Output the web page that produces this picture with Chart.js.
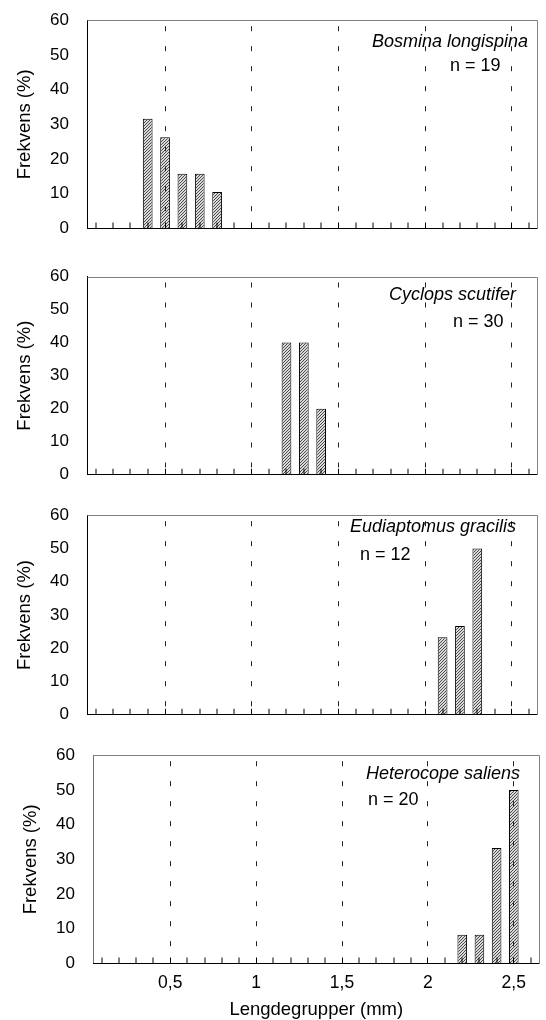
<!DOCTYPE html>
<html><head><meta charset="utf-8">
<script src="https://cdn.jsdelivr.net/npm/chart.js@4.4.1/dist/chart.umd.min.js"></script>
<style>
html,body{margin:0;padding:0;background:#fff;}
#wrap{position:relative;width:546px;height:1020px;overflow:hidden;}
canvas{position:absolute;left:0;}
</style></head>
<body><div id="wrap">
<canvas id="c1" width="546" height="250" style="top:0px"></canvas>
<canvas id="c2" width="546" height="245" style="top:250px"></canvas>
<canvas id="c3" width="546" height="240" style="top:495px"></canvas>
<canvas id="c4" width="546" height="285" style="top:735px"></canvas>
</div>
<script>
// ---- data ----
const categories = ['0,1','0,2','0,3','0,4','0,5','0,6','0,7','0,8','0,9','1',
  '1,1','1,2','1,3','1,4','1,5','1,6','1,7','1,8','1,9','2',
  '2,1','2,2','2,3','2,4','2,5','2,6'];
const xTickLabels = ['0,5','1','1,5','2','2,5'];
const speciesNames = ['Bosmina longispina','Cyclops scutifer','Eudiaptomus gracilis','Heterocope saliens'];
const nLabels = ['n = 19','n = 30','n = 12','n = 20'];
const bosmina = [null,null,null,31.6,26.3,15.8,15.8,10.5,null,null,null,null,null,null,null,null,null,null,null,null,null,null,null,null,null,null];
const cyclops = [null,null,null,null,null,null,null,null,null,null,null,40,40,20,null,null,null,null,null,null,null,null,null,null,null,null];
const eudiaptomus = [null,null,null,null,null,null,null,null,null,null,null,null,null,null,null,null,null,null,null,null,23.3,26.7,50,null,null,null];
const heterocope = [null,null,null,null,null,null,null,null,null,null,null,null,null,null,null,null,null,null,null,null,null,8.3,8.3,33.3,50,null];
const yMin = 0, yMax = 60, yStep = 10;
const yTitle = 'Frekvens (%)';
const xTitle = 'Lengdegrupper (mm)';

// ---- styling / layout ----
Chart.defaults.font.family = '"Liberation Sans", Arial, sans-serif';
Chart.defaults.color = '#000';

function hatch(){
  const c = document.createElement('canvas'); c.width = 3; c.height = 3;
  const g = c.getContext('2d');
  g.fillStyle = '#dadada'; g.fillRect(0,0,3,3);
  g.fillStyle = '#4a4a4a';
  for (let i=0;i<3;i++) g.fillRect(i,2-i,1,1);
  return g.createPattern(c,'repeat');
}
const pattern = hatch();

const frameAndText = {
  id: 'frameAndText',
  afterDraw(chart, args, o) {
    const {ctx, chartArea: a} = chart;
    ctx.save();
    ctx.setLineDash([]);
    ctx.strokeStyle = '#808080'; ctx.lineWidth = 1;
    ctx.beginPath();
    ctx.moveTo(Math.round(a.left)+0.5, Math.round(a.top)+0.5);
    ctx.lineTo(Math.round(a.right)-0.5, Math.round(a.top)+0.5);
    ctx.lineTo(Math.round(a.right)-0.5, Math.round(a.bottom));
    ctx.stroke();
    ctx.fillStyle = '#000';
    ctx.textBaseline = 'middle';
    ctx.font = 'italic 18px "Liberation Sans", Arial, sans-serif';
    ctx.textAlign = 'right';
    ctx.fillText(o.species, o.spX, o.spY);
    ctx.font = '18px "Liberation Sans", Arial, sans-serif';
    ctx.textAlign = 'left';
    ctx.fillText(o.n, o.nX, o.nY);
    ctx.restore();
  }
};

function makePanel(id, values, idx, L) {
  const cv = document.getElementById(id);
  const H = cv.height, W = cv.width;
  return new Chart(cv, {
    type: 'bar',
    data: { labels: categories, datasets: [{
      data: values, backgroundColor: pattern, borderColor: '#000', borderWidth: 1,
      barPercentage: 0.56, categoryPercentage: 1 }] },
    options: {
      responsive: false, animation: false,
      layout: { padding: { top: L.top, left: 0, right: W - L.right, bottom: 0 } },
      plugins: { legend: {display:false}, tooltip: {enabled:false},
        frameAndText: { species: speciesNames[idx], n: nLabels[idx],
          spX: L.spX, spY: L.spY, nX: L.nX, nY: L.nY } },
      scales: {
        x: {
          type: 'category', offset: true,
          grid: { offset: false, z: 1, drawTicks: true, tickLength: -6,
            tickColor: '#000', tickWidth: 1,
            lineWidth: c => xTickLabels.includes(categories[c.index]) ? 1 : 0,
            color: '#222' },
          border: { display: true, z: 1, color: '#000', width: 1, dash: [5,15], dashOffset: 14 },
          ticks: { display: L.showX, autoSkip: false, maxRotation: 0, minRotation: 0,
            padding: 15, font: { size: 17.5 },
            callback: (v, i) => xTickLabels.includes(categories[i]) ? categories[i] : '' },
          title: { display: L.showX, text: xTitle, font: { size: 18.5 }, padding: {top:0, bottom:-1} },
          afterFit: s => { s.height = H - L.bottom; }
        },
        y: {
          min: yMin, max: yMax,
          grid: { display: false },
          border: { display: true, color: L.yBorder, width: 1 },
          ticks: { stepSize: yStep, padding: L.yPad, font: { size: 17 } },
          title: { display: true, text: yTitle, font: { size: 18.5 }, padding: { top: L.yTitlePad, bottom: 0 } },
          afterFit: s => { s.width = L.left; }
        }
      }
    },
    plugins: [frameAndText]
  });
}

makePanel('c1', bosmina, 0, {top:19, bottom:228.5, left:87, right:538, yPad:10, yTitlePad:14, yBorder:'#000',
  spX:528, spY:42, nX:450, nY:66, showX:false});
makePanel('c2', cyclops, 1, {top:26.5, bottom:236, left:87, right:538, yPad:10, yTitlePad:14, yBorder:'#000',
  spX:516, spY:45, nX:453, nY:72.5, showX:false});
makePanel('c3', eudiaptomus, 2, {top:14, bottom:223.5, left:87, right:538, yPad:10, yTitlePad:14, yBorder:'#000',
  spX:516, spY:31.5, nX:360, nY:60, showX:false});
makePanel('c4', heterocope, 3, {top:19, bottom:228.5, left:93, right:544, yPad:10, yTitlePad:20, yBorder:'#707070',
  spX:520, spY:39, nX:368, nY:65, showX:true});
</script>
</body></html>
